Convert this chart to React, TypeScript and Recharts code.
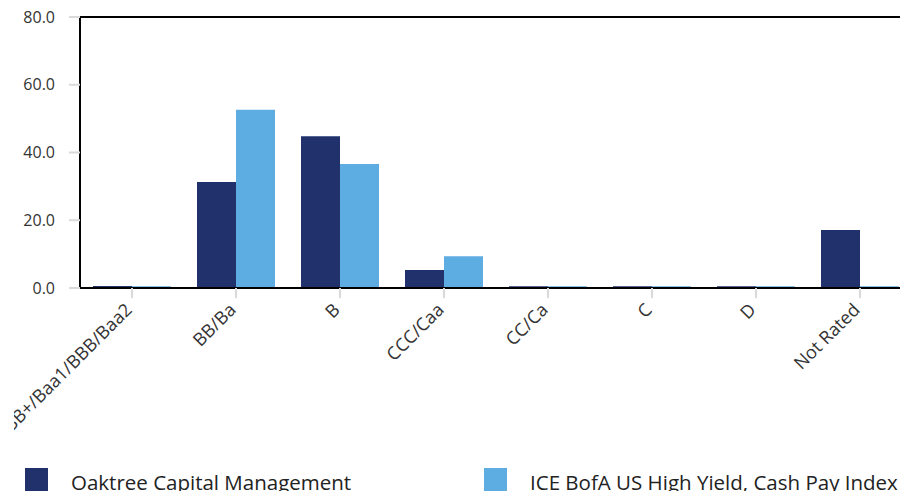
import { BarChart, Bar, XAxis, YAxis, ReferenceLine } from 'recharts';

const categories = ['BBB+/Baa1/BBB/Baa2', 'BB/Ba', 'B', 'CCC/Caa', 'CC/Ca', 'C', 'D', 'Not Rated'];
const oaktree = [0.6, 31.3, 44.8, 5.3, 0.5, 0.5, 0.5, 17.1];
const iceIndex = [0.5, 52.6, 36.6, 9.4, 0.5, 0.5, 0.5, 0.5];
const yTicks = [0, 20, 40, 60, 80];

const SERIES = [
  { key: 'oaktree', label: 'Oaktree Capital Management', fill: '#21316c' },
  { key: 'ice', label: 'ICE BofA US High Yield, Cash Pay Index', fill: '#5dade2' },
] as const;

const data = categories.map((name, i) => ({ name, oaktree: oaktree[i], ice: iceIndex[i] }));

const FONT = '"Open Sans", "Noto Sans", sans-serif';

// rotated category label, anchored at its right end
function CatTick({ x, y, payload }: any) {
  const tx = x + 1;
  const ty = y + 13;
  return (
    <text
      x={tx}
      y={ty}
      transform={`rotate(-45, ${tx}, ${ty})`}
      textAnchor="end"
      fontSize={18}
      fontFamily={FONT}
      fill="#333"
    >
      {payload.value}
    </text>
  );
}

export default function App() {
  return (
    <div style={{ position: 'fixed', left: 0, top: 0, width: 900, height: 491, overflow: 'hidden', background: '#fff', fontFamily: FONT }}>
      {/* chart, clipped on the left like the original */}
      <div style={{ position: 'absolute', left: 14, top: 0, width: 886, height: 491, overflow: 'hidden' }}>
        <BarChart
          width={900}
          height={491}
          data={data}
          margin={{ top: 17, right: 2, left: 0, bottom: 0 }}
          barCategoryGap="12.5%"
          barGap={0}
        >
          <XAxis
            dataKey="name"
            height={203}
            interval={0}
            tickSize={10}
            tickMargin={0}
            axisLine={{ stroke: '#000', strokeWidth: 2 }}
            tickLine={{ stroke: '#d9d9d9', strokeWidth: 2 }}
            tick={<CatTick />}
          />
          <YAxis
            width={66}
            domain={[0, 80]}
            ticks={yTicks}
            tickFormatter={(v: number) => v.toFixed(1)}
            tickSize={11}
            tickMargin={14}
            axisLine={{ stroke: '#000', strokeWidth: 2 }}
            tickLine={{ stroke: '#d9d9d9', strokeWidth: 2 }}
            tick={{ fontSize: 16, fill: '#333', fontFamily: FONT }}
          />
          <ReferenceLine y={80} stroke="#000" strokeWidth={2} />
          {SERIES.map(({ key, label, fill }) => (
            <Bar key={key} dataKey={key} name={label} fill={fill} isAnimationActive={false} />
          ))}
        </BarChart>
      </div>

      {/* legend */}
      <div style={{ position: 'absolute', left: 25, top: 468, width: 900, display: 'flex' }}>
        {SERIES.map(({ key, label, fill }, idx) => (
          <div key={key} style={{ display: 'flex', alignItems: 'flex-start', width: idx === 0 ? 459 : 420 }}>
            <div style={{ width: 23, height: 23, background: fill, flex: 'none' }} />
            <span style={{ marginLeft: 23, fontSize: 20.5, lineHeight: '26px', color: '#222', marginTop: 1, whiteSpace: 'nowrap' }}>
              {label}
            </span>
          </div>
        ))}
      </div>
    </div>
  );
}
